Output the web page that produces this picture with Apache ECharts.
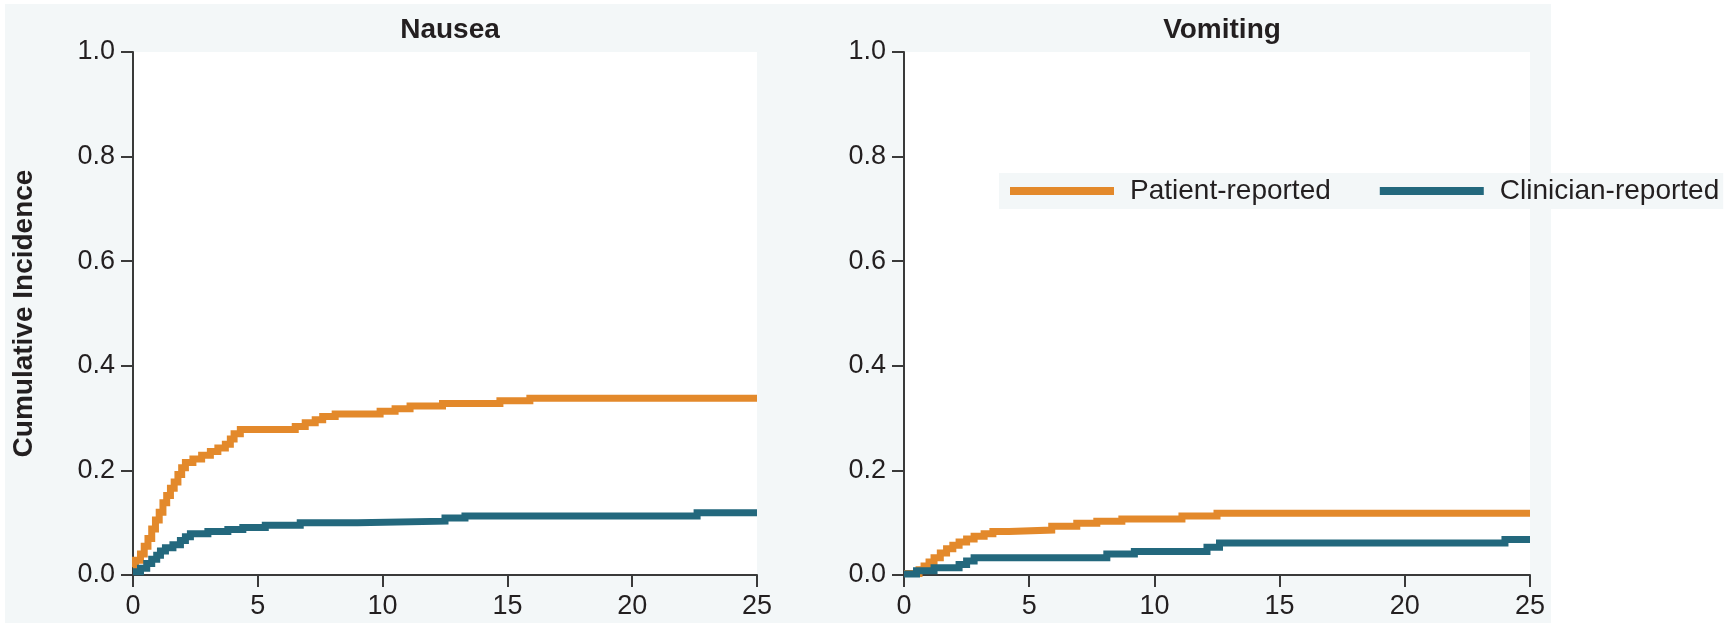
<!DOCTYPE html>
<html>
<head>
<meta charset="utf-8">
<script src="https://cdn.jsdelivr.net/npm/echarts@6/dist/echarts.min.js"></script>
<style>
html,body{margin:0;padding:0;background:#fff;}
#chart{width:1729px;height:627px;}
</style>
</head>
<body>
<div id="chart"></div>
<script>
// ---- data (time, cumulative incidence) ----
const panelTitles = ['Nausea', 'Vomiting'];
const seriesNames = ['Patient-reported', 'Clinician-reported'];
const yTicks = [0.0, 0.2, 0.4, 0.6, 0.8, 1.0];
const xTicks = [0, 5, 10, 15, 20, 25];

const nauseaPatientT = [0, 0.1, 0.3, 0.45, 0.6, 0.75, 0.9, 1.05, 1.2, 1.35, 1.5, 1.65, 1.8, 1.95, 2.1, 2.4, 2.75, 3.1, 3.4, 3.7, 3.9, 4.05, 4.3, 6.5, 6.9, 7.3, 7.6, 8.1, 9.9, 10.5, 11.1, 12.4, 14.7, 15.9, 25];
const nauseaPatientY = [0.015, 0.028, 0.04, 0.055, 0.07, 0.088, 0.105, 0.12, 0.138, 0.152, 0.166, 0.178, 0.192, 0.205, 0.215, 0.222, 0.229, 0.236, 0.243, 0.25, 0.26, 0.27, 0.278, 0.284, 0.291, 0.297, 0.303, 0.308, 0.313, 0.318, 0.323, 0.328, 0.333, 0.338, 0.338];

const nauseaClinicianT = [0, 0.3, 0.55, 0.75, 0.95, 1.1, 1.3, 1.6, 1.9, 2.1, 2.3, 3.0, 3.8, 4.4, 5.3, 6.7, 9.0, 12.5, 13.3, 22.6, 25];
const nauseaClinicianY = [0.006, 0.013, 0.022, 0.03, 0.038, 0.046, 0.052, 0.058, 0.066, 0.073, 0.079, 0.083, 0.087, 0.091, 0.095, 0.1, 0.103, 0.109, 0.113, 0.119, 0.119];

const vomitPatientT = [0, 0.6, 0.8, 1.0, 1.2, 1.45, 1.7, 1.95, 2.2, 2.5, 2.8, 3.2, 3.55, 4.2, 5.9, 6.9, 7.7, 8.7, 11.1, 12.5, 25];
const vomitPatientY = [0.003, 0.01, 0.017, 0.025, 0.033, 0.042, 0.05, 0.057, 0.063, 0.069, 0.074, 0.079, 0.083, 0.086, 0.093, 0.099, 0.103, 0.107, 0.113, 0.118, 0.118];

const vomitClinicianT = [0, 0.5, 1.2, 2.2, 2.5, 2.8, 8.1, 9.2, 12.1, 12.6, 24.0, 25];
const vomitClinicianY = [0.002, 0.008, 0.014, 0.02, 0.027, 0.033, 0.04, 0.045, 0.053, 0.061, 0.068, 0.068];

const zip = (t, y) => t.map((v, i) => [v, y[i]]);

const ORANGE = '#E3892B';
const TEAL = '#23687D';
const TEXT = '#231F20';
const AXIS = '#3a3a3a';
const FONT = '"Liberation Sans", Arial, sans-serif';

function xAxisCfg(gi) {
  return {
    type: 'value', gridIndex: gi, min: 0, max: 25, interval: 5,
    axisLine: { show: true, onZero: false, lineStyle: { color: AXIS, width: 2 } },
    axisTick: { show: true, length: 12, lineStyle: { color: AXIS, width: 2 } },
    axisLabel: { color: TEXT, fontSize: 27, fontFamily: FONT, margin: 18 },
    splitLine: { show: false }
  };
}
function yAxisCfg(gi, name) {
  return {
    type: 'value', gridIndex: gi, min: 0, max: 1, interval: 0.2,
    name: name, nameLocation: 'middle', nameGap: 95,
    nameTextStyle: { color: TEXT, fontSize: 28, fontWeight: 'bold', fontFamily: FONT },
    axisLine: { show: true, lineStyle: { color: AXIS, width: 2 } },
    axisTick: { show: true, length: 12, lineStyle: { color: AXIS, width: 2 } },
    axisLabel: { color: TEXT, fontSize: 27, fontFamily: FONT, margin: 18,
      formatter: v => v.toFixed(1) },
    splitLine: { show: false }
  };
}
function lineSeries(name, data, color, idx) {
  return {
    name: name, type: 'line', step: 'end', data: data,
    xAxisIndex: idx, yAxisIndex: idx, showSymbol: false, symbol: 'none',
    clip: false, lineStyle: { color: color, width: 7, cap: 'butt', join: 'miter' },
    itemStyle: { color: color }, animation: false
  };
}

const chart = echarts.init(document.getElementById('chart'), null, { renderer: 'canvas' });
chart.setOption({
  animation: false,
  backgroundColor: '#ffffff',
  textStyle: { fontFamily: FONT },
  graphic: [{
    type: 'rect', z: -100, silent: true,
    shape: { x: 5, y: 4, width: 1546, height: 619 },
    style: { fill: '#F3F7F8' }
  }],
  title: [
    { text: panelTitles[0], left: 445, top: 11, textAlign: 'center',
      textStyle: { color: TEXT, fontSize: 28, fontWeight: 'bold', fontFamily: FONT } },
    { text: panelTitles[1], left: 1217, top: 11, textAlign: 'center',
      textStyle: { color: TEXT, fontSize: 28, fontWeight: 'bold', fontFamily: FONT } }
  ],
  legend: {
    data: seriesNames, left: 999, top: 173,
    orient: 'horizontal', icon: 'rect', itemWidth: 104, itemHeight: 8, itemGap: 49,
    backgroundColor: '#F3F7F8', padding: [4, 4, 4, 11],
    textStyle: { color: TEXT, fontSize: 28, fontFamily: FONT, padding: [0, 0, 0, 11] }
  },
  grid: [
    { left: 133, right: 972, top: 52, bottom: 52, show: true, backgroundColor: '#ffffff', borderWidth: 0 },
    { left: 904, right: 199, top: 52, bottom: 52, show: true, backgroundColor: '#ffffff', borderWidth: 0 }
  ],
  xAxis: [xAxisCfg(0), xAxisCfg(1)],
  yAxis: [yAxisCfg(0, 'Cumulative Incidence'), yAxisCfg(1, '')],
  series: [
    lineSeries(seriesNames[0], zip(nauseaPatientT, nauseaPatientY), ORANGE, 0),
    lineSeries(seriesNames[1], zip(nauseaClinicianT, nauseaClinicianY), TEAL, 0),
    lineSeries(seriesNames[0], zip(vomitPatientT, vomitPatientY), ORANGE, 1),
    lineSeries(seriesNames[1], zip(vomitClinicianT, vomitClinicianY), TEAL, 1)
  ]
});
</script>
</body>
</html>
